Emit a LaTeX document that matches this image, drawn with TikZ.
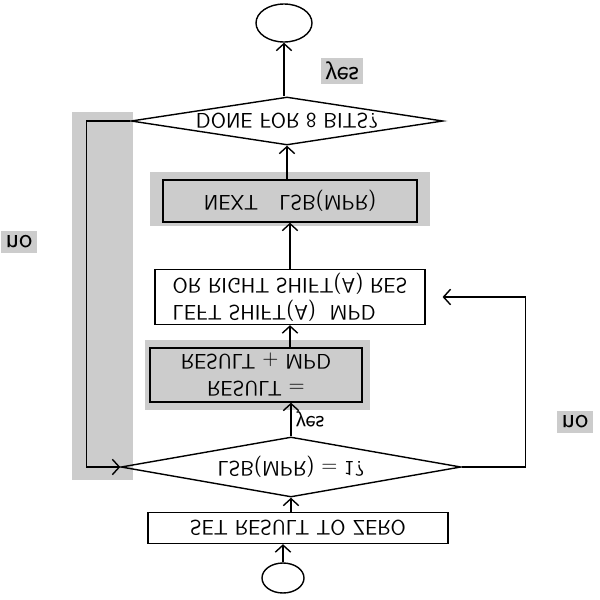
\documentclass[tikz,border=0pt]{standalone}
\usetikzlibrary{shapes.geometric,arrows.meta}
\newcommand{\pxu}{0.025cm}
\definecolor{scangray}{rgb}{0.80,0.80,0.80}

\begin{document}
\begin{tikzpicture}[
        x=\pxu, y=\pxu, yscale=-1,
        every node/.style={transform shape, font=\sffamily\fontsize{15}{19}\selectfont},
        >={Straight Barb[length=5pt,width=11pt]},
        every path/.style={line width=1pt},
        stepbox/.style={rectangle, draw=black, inner sep=0pt},
        testbox/.style={diamond, draw=black, inner sep=0pt},
        endbox/.style={ellipse, draw=black, inner sep=0pt},
        tag/.style={inner sep=3pt, font=\sffamily\fontsize{20}{22}\selectfont}
        ]
        \useasboundingbox (0,0) rectangle (600,600);

        % scanned gray patches
        \fill[scangray] (72,112) rectangle (133,480);
        \fill[scangray] (145,340) rectangle (370,410);
        \fill[scangray] (150,172) rectangle (430,226);

        % steps of the chart (drawn mirrored: south is up in the picture)
        \node [endbox, minimum width=56*\pxu, minimum height=38*\pxu] (stop) at (284,23) {};
        \node [testbox, minimum width=312*\pxu, minimum height=48*\pxu] (done) at (287,121) {\makebox[0pt]{DONE FOR 8 BITS?}};
        \node [stepbox, fill=scangray, minimum width=254*\pxu, minimum height=42*\pxu] (nextlsb) at (290,201) {NEXT\quad LSB(MPR)};
        \node [stepbox, align=left, minimum width=270*\pxu, minimum height=55*\pxu] (shift) at (290,297) {LEFT SHIFT(A)\ \ MPD\\OR RIGHT SHIFT(A) RES};
        \node [stepbox, align=center, minimum width=212*\pxu, minimum height=54*\pxu] (result) at (256,375) {RESULT =\\RESULT + MPD};
        \node [testbox, minimum width=340*\pxu, minimum height=60*\pxu] (lsbtest) at (291,467) {\makebox[0pt]{LSB(MPR) = 1?}};
        \node [stepbox, minimum width=300*\pxu, minimum height=31*\pxu] (setzero) at (298,528) {SET RESULT TO ZERO};
        \node [endbox, minimum width=42*\pxu, minimum height=30*\pxu] (start) at (283,578) {};

        % main flow
        \draw[->] (start.south) -- (start.south |- setzero.north);
        \draw[->] (setzero.south -| lsbtest.north) -- (lsbtest.north);
        \draw[->] (lsbtest.south) -- (lsbtest.south |- result.north)
            node [midway, right, tag, font=\sffamily\fontsize{17}{19}\selectfont] {yes};
        \draw[->] (shift.north |- result.south) -- (shift.north);
        \draw[->] (shift.south) -- (nextlsb.north);
        \draw[->] (nextlsb.south -| done.north) -- (done.north);
        \draw[->] (stop.north |- done.south) -- (stop.north);
        \node [tag, fill=scangray] (yestop) at (342,71) {yes};

        % loops back
        \draw[->] (done.west) -- ++(-44,0) |- (lsbtest.west);
        \draw[->, shorten >=12pt] (lsbtest.east) -- ++(64,0) |- (shift.east);
        \node [tag, fill=scangray] (noleft) at (19,242) {no};
        \node [tag, fill=scangray] (noright) at (575,422) {no};
    \end{tikzpicture}
\end{document}
